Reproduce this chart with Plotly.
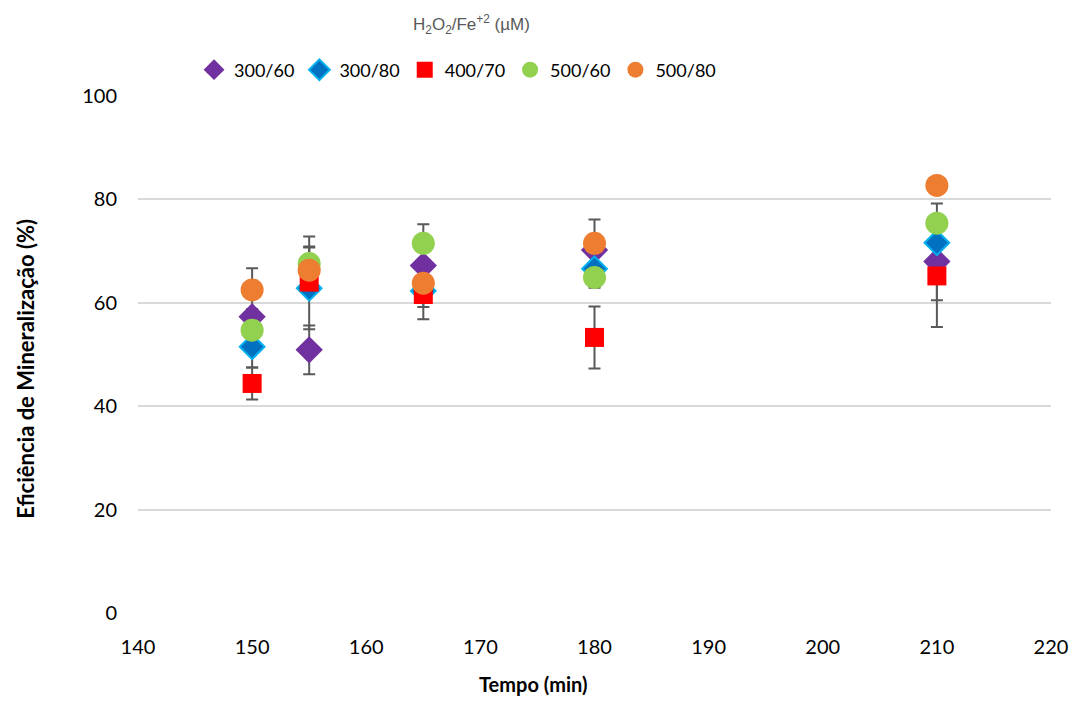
import plotly.graph_objects as go

# Reaction time (min)
tempo = [150, 155, 165, 180, 210]

series_names = ["300/60", "300/80", "400/70", "500/60", "500/80"]

# Mineralisation efficiency (%) per H2O2/Fe+2 ratio
ef_300_60 = [57.3, 50.9, 67.2, 70.2, 68.0]
ef_300_80 = [51.5, 62.8, 62.3, 66.6, 71.6]
ef_400_70 = [44.4, 64.0, 61.6, 53.3, 65.2]
ef_500_60 = [54.7, 67.6, 71.5, 64.9, 75.4]
ef_500_80 = [62.5, 66.3, 63.8, 71.5, 82.7]

# Standard deviations
sd_300_60 = [1.5, 4.7, 3.0, 3.0, 7.5]
sd_300_80 = [4.0, 7.9, 2.0, 2.5, 3.0]
sd_400_70 = [3.1, 2.5, 4.8, 6.0, 9.9]
sd_500_60 = [2.5, 5.2, 3.7, 2.0, 3.8]
sd_500_80 = [4.2, 4.6, 4.6, 4.6, 1.0]

values = [ef_300_60, ef_300_80, ef_400_70, ef_500_60, ef_500_80]
errors = [sd_300_60, sd_300_80, sd_400_70, sd_500_60, sd_500_80]

styles = [
    dict(symbol="diamond", color="#7030A0", size=21, line=dict(width=0)),
    dict(symbol="diamond", color="#0070C0", size=19, line=dict(width=2, color="#00B0F0")),
    dict(symbol="square", color="#FF0000", size=19, line=dict(width=0)),
    dict(symbol="circle", color="#92D050", size=23, line=dict(width=0)),
    dict(symbol="circle", color="#ED7D31", size=23, line=dict(width=0)),
]

L, R, T, B = 138, 22, 96, 90
W, H = 1080, 703
PW, PH = W - L - R, H - T - B


def px_x(x):
    return (x - L) / PW


def px_y(y):
    return (H - B - y) / PH


fig = go.Figure()

# Error bars first so every marker sits on top of them
for v, e in zip(values, errors):
    fig.add_trace(go.Scatter(
        x=tempo, y=v, mode="markers",
        marker=dict(size=1, color="rgba(0,0,0,0)"),
        error_y=dict(type="data", array=e, visible=True,
                     color="#595959", thickness=2, width=6),
        showlegend=False, hoverinfo="skip",
    ))

for name, v, st in zip(series_names, values, styles):
    fig.add_trace(go.Scatter(
        x=tempo, y=v, mode="markers", name=name,
        marker=st,
    ))

fig.update_layout(
    width=W, height=H,
    margin=dict(l=L, r=R, t=T, b=B),
    paper_bgcolor="white", plot_bgcolor="white",
    font=dict(family="Lato, sans-serif", color="#000000"),
    showlegend=True,
    legend=dict(
        orientation="h", xanchor="center", yanchor="middle",
        x=px_x(460), y=px_y(70),
        font=dict(size=18, color="#000000"),
        itemwidth=30, tracegroupgap=0,
        bgcolor="rgba(0,0,0,0)",
    ),
    annotations=[
        dict(
            text="H<sub>2</sub>O<sub>2</sub>/Fe<sup>+2</sup> (µM)",
            xref="paper", yref="paper",
            x=px_x(474), y=px_y(24),
            xanchor="center", yanchor="middle", showarrow=False,
            font=dict(family="Liberation Sans, Arial, sans-serif", size=17, color="#595959"),
        ),
        dict(
            text="<b>Tempo (min)</b>",
            xref="paper", yref="paper",
            x=px_x(536), y=px_y(684),
            xanchor="center", yanchor="middle", showarrow=False,
            font=dict(family="Lato, sans-serif", size=20, color="#000000"),
        ),
        dict(
            text="<b>Eficiência de Mineralização (%)</b>",
            xref="paper", yref="paper",
            x=px_x(24), y=px_y(369),
            xanchor="center", yanchor="middle", showarrow=False,
            textangle=-90,
            font=dict(family="Lato, sans-serif", size=22, color="#000000"),
        ),
    ],
)

fig.update_xaxes(
    range=[140, 220], dtick=10, tick0=140,
    showgrid=False, zeroline=False,
    showline=False, ticks="",
    ticklabelstandoff=20,
    tickfont=dict(size=20, color="#000000"),
)
fig.update_yaxes(
    range=[0, 100], dtick=20, tick0=0,
    showgrid=True, gridcolor="#D9D9D9", gridwidth=1.5,
    zeroline=False, showline=False, ticks="",
    ticklabelstandoff=20,
    tickfont=dict(size=20, color="#000000"),
)

fig.write_html("out.html")
